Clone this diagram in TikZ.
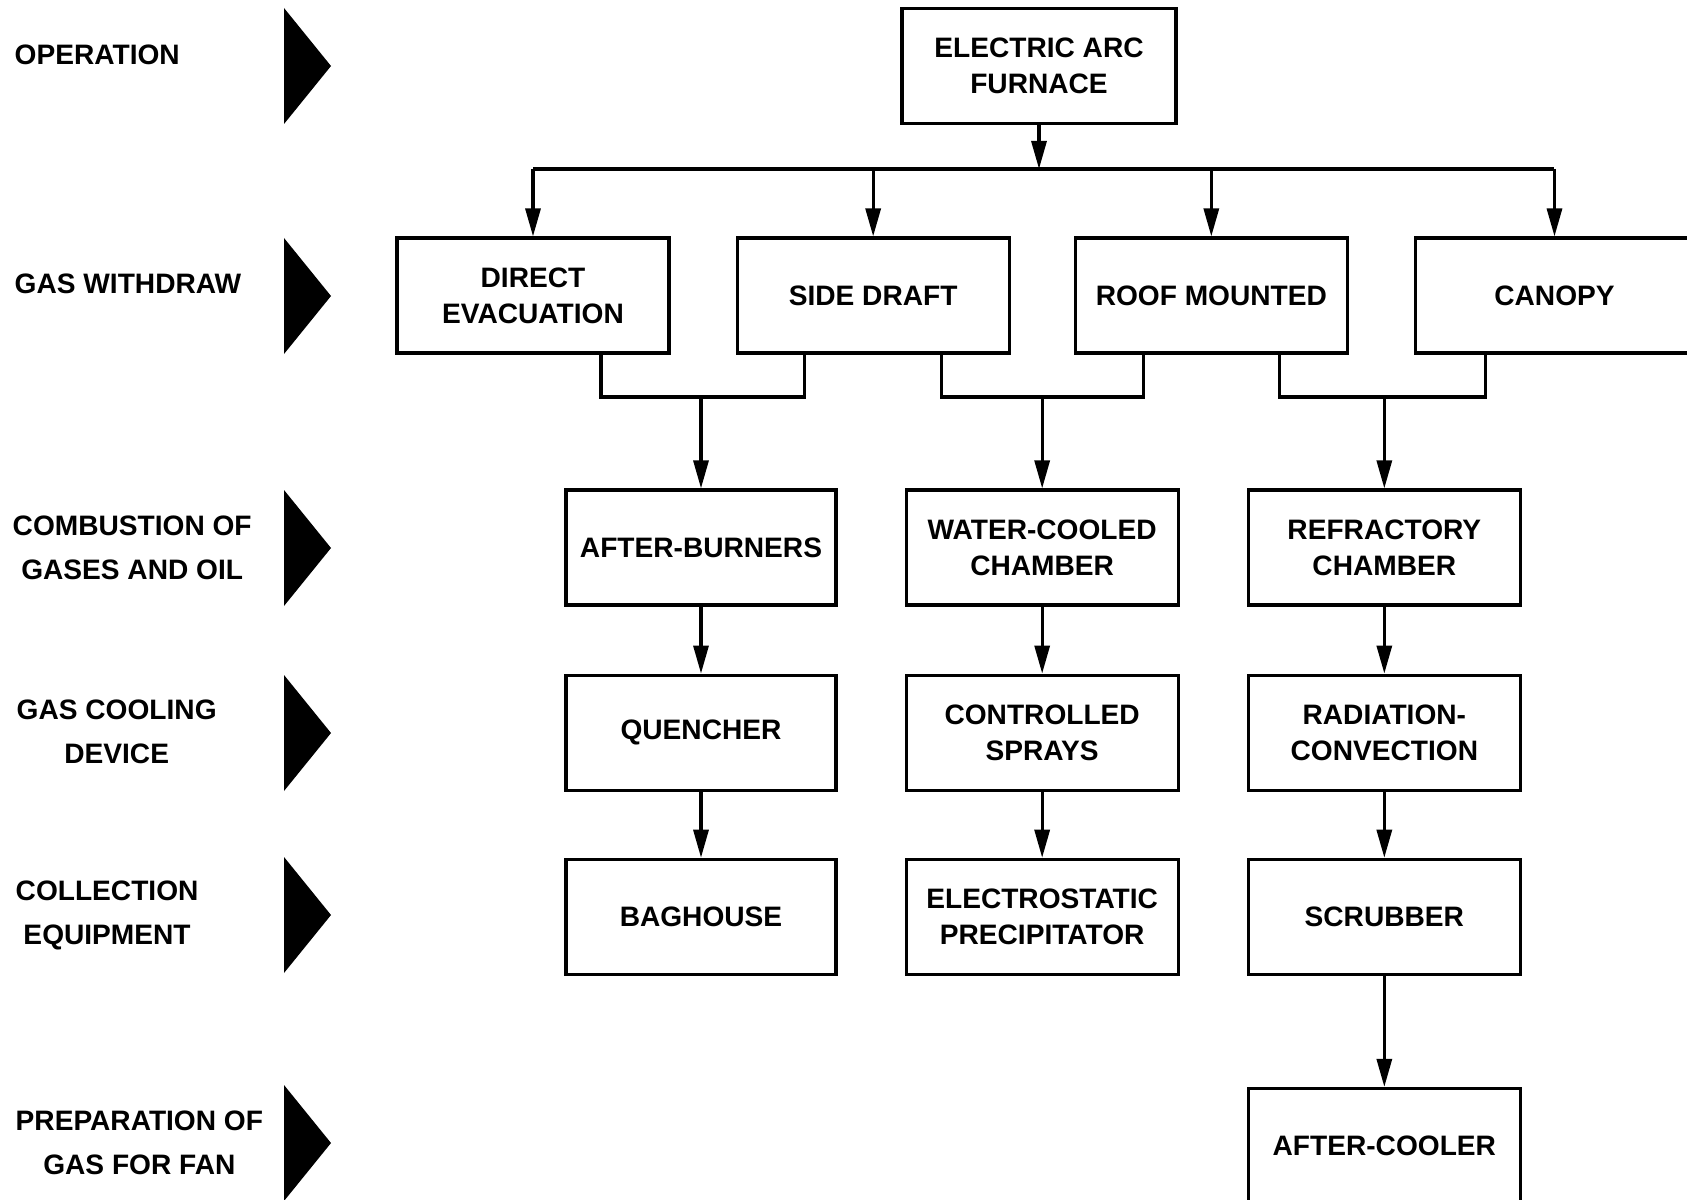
\documentclass[tikz,border=0pt]{standalone}
\usepackage{fontspec}
\setmainfont{Liberation Sans}
\usepackage{tikz}
\usetikzlibrary{positioning,arrows.meta,calc}
\tikzset{
  stagebox/.style={rectangle,draw=black,line width=0.9pt,fill=white,align=center,
    font=\bfseries\fontsize{8}{10.2}\selectfont,
    minimum width=27.2mm,minimum height=11.5mm,inner sep=0pt},
  stagelabel/.style={anchor=west,align=center,inner sep=0pt,
    font=\bfseries\fontsize{8}{12.5}\selectfont},
  flw/.style={-{Triangle[length=2.8mm,width=1.5mm]},draw=black,line width=0.9pt},
  bar/.style={draw=black,line width=0.9pt},
}
\begin{document}
\begin{tikzpicture}[x=0.1mm,y=-0.1mm,node distance=6.5mm]
  \useasboundingbox (0,0) rectangle (1687,1200);
  % stage labels and pointers
  \node[stagelabel] (l1) at (14,55) {OPERATION};
  \node[stagelabel] (l2) at (14,284) {GAS WITHDRAW};
  \node[stagelabel] (l3) at (12,548) {COMBUSTION OF\\GASES AND OIL};
  \node[stagelabel] (l4) at (16,732) {GAS COOLING\\DEVICE};
  \node[stagelabel] (l5) at (15,915) {COLLECTION\\EQUIPMENT};
  \node[stagelabel] (l6) at (15,1143) {PREPARATION OF\\GAS FOR FAN};
  \foreach \yc in {66,296,548,733,915,1143}
    \fill[black] (284,\yc-58) -- (331,\yc) -- (284,\yc+58) -- cycle;
  % furnace and withdrawal
  \node[stagebox,minimum width=27.4mm] (eaf) at (1039,66) {ELECTRIC ARC\\FURNACE};
  \node[stagebox] (de) at (533,295.5) {DIRECT\\EVACUATION};
  \node[stagebox,right=of de] (sd) {SIDE DRAFT};
  \node[stagebox,right=6.3mm of sd] (rm) {ROOF MOUNTED};
  \node[stagebox,minimum width=27.8mm,right=of rm] (can) {CANOPY};
  % treatment columns
  \node[stagebox,minimum width=27mm] (ab) at (701,547.5) {AFTER-BURNERS};
  \node[stagebox,right=6.7mm of ab] (wc) {WATER-COOLED\\CHAMBER};
  \node[stagebox,right=6.7mm of wc] (rc) {REFRACTORY\\CHAMBER};
  \node[stagebox,minimum width=27mm,below=6.7mm of ab] (qu) {QUENCHER};
  \node[stagebox,below=6.7mm of wc] (cs) {CONTROLLED\\SPRAYS};
  \node[stagebox,below=6.7mm of rc] (radc) {RADIATION-\\CONVECTION};
  \node[stagebox,minimum width=27mm,below=6.6mm of qu] (bh) {BAGHOUSE};
  \node[stagebox,below=6.6mm of cs] (esp) {ELECTROSTATIC\\PRECIPITATOR};
  \node[stagebox,below=6.6mm of radc] (scr) {SCRUBBER};
  \node[stagebox,below=11.1mm of scr] (aco) {AFTER-COOLER};
  % distribution bus
  \coordinate (bus) at (0,169);
  \draw[flw] (eaf) -- (eaf.south |- bus);
  \draw[bar] (de.north |- bus) -- (can.north |- bus);
  \draw[flw] (de.north |- bus) -- (de);
  \draw[flw] (sd.north |- bus) -- (sd);
  \draw[flw] (rm.north |- bus) -- (rm);
  \draw[flw] (can.north |- bus) -- (can);
  % merging legs
  \coordinate (mrg) at (0,397);
  \coordinate (de r) at ([xshift=6.8mm]de.south);
  \coordinate (sd l) at ([xshift=-6.9mm]sd.south);
  \coordinate (sd r) at ([xshift=6.8mm]sd.south);
  \coordinate (rm l) at ([xshift=-6.8mm]rm.south);
  \coordinate (rm r) at ([xshift=6.8mm]rm.south);
  \coordinate (can l) at ([xshift=-6.9mm]can.south);
  \draw[bar] (de r) -- (de r |- mrg) -- (sd l |- mrg) -- (sd l);
  \draw[bar] (sd r) -- (sd r |- mrg) -- (rm l |- mrg) -- (rm l);
  \draw[bar] (rm r) -- (rm r |- mrg) -- (can l |- mrg) -- (can l);
  \draw[flw] (ab.north |- mrg) -- (ab);
  \draw[flw] (wc.north |- mrg) -- (wc);
  \draw[flw] (rc.north |- mrg) -- (rc);
  % down the columns
  \draw[flw] (ab) -- (qu);
  \draw[flw] (qu) -- (bh);
  \draw[flw] (wc) -- (cs);
  \draw[flw] (cs) -- (esp);
  \draw[flw] (rc) -- (radc);
  \draw[flw] (radc) -- (scr);
  \draw[flw] (scr) -- (aco);
\end{tikzpicture}
\end{document}
